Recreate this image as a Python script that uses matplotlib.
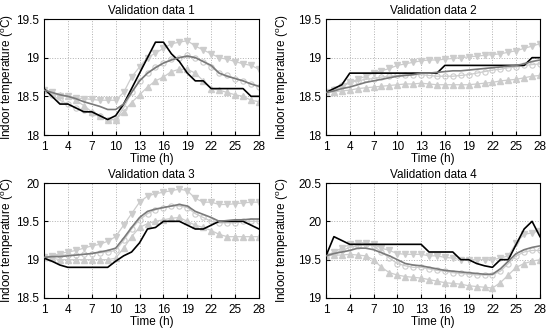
import matplotlib
matplotlib.use("Agg")
import matplotlib.pyplot as plt
import numpy as np

plt.rcParams['font.family'] = ['Liberation Sans', 'DejaVu Sans']
plt.rcParams['mathtext.fontset'] = 'custom'
plt.rcParams['mathtext.rm'] = 'Liberation Sans'
plt.rcParams['mathtext.it'] = 'Liberation Sans'

hours = list(range(1, 29))
xticks = [1, 4, 7, 10, 13, 16, 19, 22, 25, 28]

titles = ["Validation data 1", "Validation data 2", "Validation data 3", "Validation data 4"]
ylims = [(18, 19.5), (18, 19.5), (18.5, 20), (19, 20.5)]
yticks = [[18, 18.5, 19, 19.5], [18, 18.5, 19, 19.5], [18.5, 19, 19.5, 20], [19, 19.5, 20, 20.5]]
yticklabels = [["18", "18.5", "19", "19.5"], ["18", "18.5", "19", "19.5"],
               ["18.5", "19", "19.5", "20"], ["19", "19.5", "20", "20.5"]]

# Measured (black)
meas1 = [18.6, 18.5, 18.4, 18.4, 18.35, 18.3, 18.3, 18.25, 18.2, 18.25, 18.4, 18.6, 18.8, 19.0,
         19.2, 19.2, 19.05, 18.95, 18.8, 18.7, 18.7, 18.6, 18.6, 18.6, 18.6, 18.6, 18.5, 18.5]
meas2 = [18.55, 18.6, 18.65, 18.8, 18.8, 18.8, 18.8, 18.8, 18.8, 18.8, 18.8, 18.8, 18.8, 18.8,
         18.8, 18.9, 18.9, 18.9, 18.9, 18.9, 18.9, 18.9, 18.9, 18.9, 18.9, 18.9, 19.0, 19.0]
meas3 = [19.02, 18.98, 18.93, 18.9, 18.9, 18.9, 18.9, 18.9, 18.9, 18.98, 19.05, 19.1, 19.22, 19.4,
         19.42, 19.5, 19.5, 19.5, 19.45, 19.4, 19.4, 19.45, 19.5, 19.5, 19.5, 19.5, 19.45, 19.4]
meas4 = [19.55, 19.8, 19.75, 19.7, 19.7, 19.7, 19.7, 19.7, 19.7, 19.7, 19.7, 19.7, 19.7, 19.6,
         19.6, 19.6, 19.6, 19.5, 19.5, 19.45, 19.42, 19.4, 19.5, 19.5, 19.7, 19.9, 20.0, 19.8]

# Mean prediction (dark gray)
mean1 = [18.58, 18.55, 18.52, 18.5, 18.47, 18.43, 18.4, 18.37, 18.33, 18.33, 18.4, 18.55, 18.7, 18.8,
         18.87, 18.93, 18.97, 19.0, 19.02, 19.0, 18.95, 18.9, 18.8, 18.76, 18.73, 18.7, 18.66, 18.63]
mean2 = [18.55, 18.57, 18.6, 18.62, 18.65, 18.68, 18.7, 18.72, 18.74, 18.76, 18.77, 18.78, 18.8, 18.8,
         18.81, 18.82, 18.83, 18.83, 18.84, 18.85, 18.86, 18.87, 18.88, 18.89, 18.9, 18.92, 18.95, 18.97]
mean3 = [19.03, 19.04, 19.04, 19.05, 19.06, 19.07, 19.08, 19.1, 19.12, 19.15, 19.28, 19.42, 19.55, 19.63,
         19.66, 19.68, 19.7, 19.72, 19.7, 19.63, 19.59, 19.55, 19.5, 19.51, 19.52, 19.52, 19.53, 19.53]
mean4 = [19.55, 19.58, 19.6, 19.62, 19.65, 19.65, 19.63, 19.59, 19.55, 19.5, 19.45, 19.43, 19.42, 19.4,
         19.38, 19.36, 19.35, 19.34, 19.33, 19.32, 19.31, 19.31, 19.38, 19.48, 19.58, 19.63, 19.66, 19.68]

# Upper (down triangles)
up1 = [18.58, 18.55, 18.5, 18.5, 18.48, 18.47, 18.46, 18.45, 18.45, 18.45, 18.55, 18.75, 18.88, 19.0,
       19.06, 19.12, 19.18, 19.2, 19.22, 19.15, 19.1, 19.05, 19.0, 18.98, 18.95, 18.92, 18.9, 18.85]
up2 = [18.55, 18.58, 18.62, 18.68, 18.72, 18.76, 18.8, 18.83, 18.86, 18.9, 18.92, 18.94, 18.96, 18.97,
       18.97, 18.98, 18.99, 19.0, 19.01, 19.02, 19.03, 19.04, 19.05, 19.07, 19.09, 19.12, 19.15, 19.18]
up3 = [19.03, 19.05, 19.08, 19.1, 19.12, 19.15, 19.18, 19.2, 19.24, 19.3, 19.45, 19.6, 19.75, 19.83,
       19.86, 19.88, 19.9, 19.92, 19.9, 19.8, 19.75, 19.75, 19.72, 19.72, 19.73, 19.74, 19.75, 19.75]
up4 = [19.55, 19.6, 19.65, 19.7, 19.72, 19.72, 19.7, 19.65, 19.62, 19.58, 19.57, 19.57, 19.57, 19.55,
       19.55, 19.53, 19.52, 19.5, 19.5, 19.5, 19.5, 19.5, 19.52, 19.55, 19.72, 19.83, 19.85, 19.88]

# Middle (circles)
mid1 = [18.58, 18.52, 18.45, 18.4, 18.35, 18.32, 18.28, 18.24, 18.2, 18.2, 18.35, 18.55, 18.7, 18.8,
        18.88, 18.93, 18.98, 19.0, 19.03, 19.0, 18.95, 18.88, 18.8, 18.77, 18.73, 18.7, 18.66, 18.62]
mid2 = [18.55, 18.6, 18.65, 18.68, 18.7, 18.72, 18.73, 18.75, 18.76, 18.77, 18.78, 18.78, 18.78, 18.77,
        18.76, 18.76, 18.76, 18.77, 18.78, 18.8, 18.82, 18.84, 18.85, 18.87, 18.88, 18.9, 18.91, 18.92]
mid3 = [19.03, 19.05, 19.06, 19.06, 19.06, 19.07, 19.08, 19.09, 19.1, 19.12, 19.25, 19.4, 19.52, 19.6,
        19.65, 19.68, 19.7, 19.7, 19.68, 19.6, 19.55, 19.5, 19.48, 19.48, 19.48, 19.5, 19.5, 19.5]
mid4 = [19.55, 19.58, 19.62, 19.66, 19.68, 19.7, 19.68, 19.6, 19.52, 19.45, 19.42, 19.4, 19.4, 19.38,
        19.36, 19.35, 19.33, 19.32, 19.31, 19.3, 19.3, 19.3, 19.35, 19.45, 19.55, 19.6, 19.62, 19.62]

# Lower (up triangles)
lo1 = [18.58, 18.55, 18.52, 18.5, 18.45, 18.38, 18.3, 18.25, 18.2, 18.2, 18.3, 18.42, 18.52, 18.62,
       18.7, 18.75, 18.82, 18.85, 18.85, 18.8, 18.7, 18.6, 18.58, 18.55, 18.52, 18.5, 18.45, 18.43]
lo2 = [18.55, 18.56, 18.57, 18.58, 18.6, 18.61, 18.62, 18.63, 18.64, 18.65, 18.66, 18.66, 18.67, 18.66,
       18.65, 18.65, 18.65, 18.65, 18.65, 18.66, 18.67, 18.68, 18.7, 18.71, 18.72, 18.74, 18.76, 18.77]
lo3 = [19.03, 19.02, 19.0, 19.0, 19.0, 19.0, 19.0, 19.0, 19.0, 19.02, 19.15, 19.3, 19.42, 19.47,
       19.5, 19.52, 19.54, 19.55, 19.5, 19.45, 19.42, 19.38, 19.33, 19.3, 19.3, 19.3, 19.3, 19.3]
lo4 = [19.55, 19.56, 19.56, 19.57, 19.56, 19.55, 19.5, 19.4, 19.33, 19.3, 19.28, 19.27, 19.26, 19.24,
       19.22, 19.2, 19.19, 19.18, 19.16, 19.15, 19.14, 19.13, 19.2, 19.3, 19.4, 19.45, 19.48, 19.5]

meas = [meas1, meas2, meas3, meas4]
means = [mean1, mean2, mean3, mean4]
ups = [up1, up2, up3, up4]
mids = [mid1, mid2, mid3, mid4]
los = [lo1, lo2, lo3, lo4]

fig = plt.figure(figsize=(5.5, 3.32), dpi=100)
positions = [
    [44/550, 1-135/332, 215/550, 116/332],
    [326/550, 1-135/332, 214/550, 116/332],
    [44/550, 1-298/332, 215/550, 115/332],
    [326/550, 1-298/332, 214/550, 115/332],
]
label_x = [-0.128, -0.164, -0.128, -0.164]
light = "#cccccc"
for i in range(4):
    ax = fig.add_axes(positions[i])
    ax.plot(hours, ups[i], color=light, lw=0.9, marker="v", ms=3.8, mfc=light, mec=light, zorder=2)
    ax.plot(hours, los[i], color=light, lw=0.9, marker="^", ms=3.8, mfc=light, mec=light, zorder=2)
    ax.plot(hours, mids[i], color=light, lw=0.9, marker="o", ms=3.8, mfc="none", mec=light, mew=0.8, zorder=2)
    ax.plot(hours, meas[i], color="black", lw=1.2, zorder=3)
    ax.plot(hours, means[i], color="#7a7a7a", lw=1.2, zorder=4)
    ax.set_xlim(1, 28)
    ax.set_ylim(*ylims[i])
    ax.set_xticks(xticks)
    ax.set_yticks(yticks[i])
    ax.set_yticklabels(yticklabels[i])
    ax.grid(True, color="#b0b0b0", linestyle=":", lw=0.7)
    ax.tick_params(labelsize=8.5, direction="in", length=3)
    ax.tick_params(axis="x", pad=4.5)
    ax.tick_params(axis="y", pad=3.5)
    ax.set_title(titles[i], fontsize=8.5, pad=3.5)
    ax.set_xlabel("Time (h)", fontsize=8.5, labelpad=0)
    ax.set_ylabel("Indoor temperature ($^o$C)", fontsize=8.5)
    ax.yaxis.set_label_coords(label_x[i], 0.5)
    for s in ax.spines.values():
        s.set_linewidth(0.8)

fig.savefig("out.png", dpi=100)
